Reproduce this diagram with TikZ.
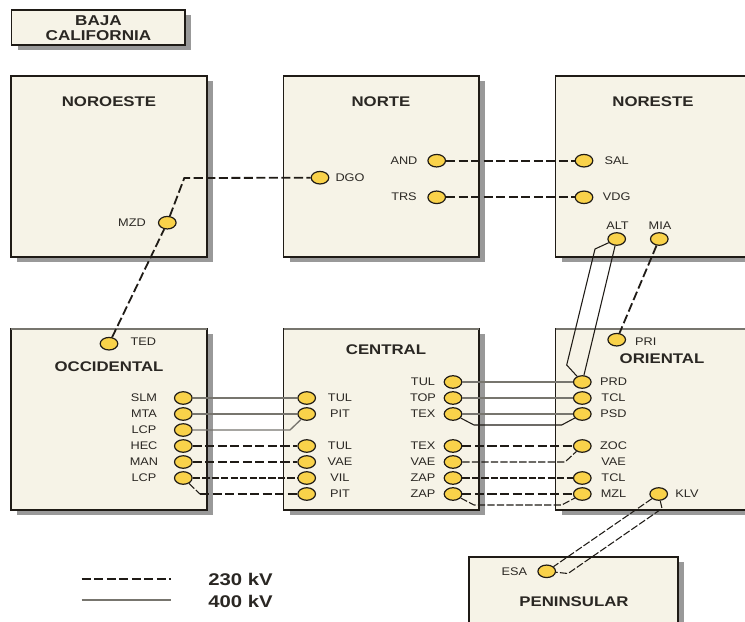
\documentclass[tikz,border=0pt]{standalone}
\usepackage{fontspec}
\setmainfont{Liberation Sans}
\usetikzlibrary{shapes.geometric}
\definecolor{boxfill}{HTML}{F6F3E7}
\definecolor{boxedge}{HTML}{1F1B16}
\definecolor{boxshadow}{HTML}{999999}
\definecolor{nodefill}{HTML}{F9D24A}
\definecolor{greyline}{HTML}{77756E}
\definecolor{txt}{HTML}{2A2723}
\newcommand{\stA}[1]{\scalebox{1.15}[1]{#1}}
\newcommand{\stB}[1]{\scalebox{1.2}[1]{#1}}
\newcommand{\region}[5]{%
  \fill[boxshadow] (#2+6,#3+5) rectangle (#4+6,#5+5);
  \node[regionbox,minimum width={(#4-#2)*0.75pt},minimum height={(#5-#3)*0.75pt}] (#1) at ({(#2+#4)/2},{(#3+#5)/2}) {};}
\tikzset{
  regionbox/.style={draw=boxedge,fill=boxfill,line width=1.2pt,inner sep=0pt,outer sep=0pt},
  sub/.style={ellipse,draw=boxedge,fill=nodefill,line width=0.9pt,minimum width=13.2pt,minimum height=9.4pt,inner sep=0pt},
  lab/.style={font=\fontsize{8.3}{9}\selectfont,text=txt,inner sep=0pt},
  ttl/.style={font=\fontsize{10.5}{12}\selectfont\bfseries,text=txt,inner sep=0pt,align=center},
  bajattl/.style={font=\fontsize{10.7}{12}\selectfont\bfseries,text=txt,inner sep=0pt},
  legendttl/.style={font=\fontsize{12.7}{14}\selectfont\bfseries,text=txt,inner sep=0pt,anchor=west},
  kv/.style={line width=1.35pt,draw=boxedge,dash pattern=on 6.8pt off 2.6pt},
  kvthin/.style={line width=0.8pt,draw=boxedge,dash pattern=on 5.5pt off 1.6pt},
  mv/.style={line width=1pt,draw=greyline},
  mvthin/.style={line width=0.8pt,draw=boxedge},
  topedge/.style={line width=1.2pt,draw=greyline},
}
\begin{document}
\begin{tikzpicture}[x=0.75pt,y=-0.75pt]
\useasboundingbox (0,0) rectangle (745,621);
\clip (0,0) rectangle (745,621);
% regions
\region{baja}{11.5}{10}{185}{45}
\region{noroeste}{11}{76}{207}{257}
\region{norte}{283.5}{76}{479}{257}
\region{noreste}{555.5}{76}{760}{257}
\region{occidental}{11}{329}{207}{510}
\region{central}{283.5}{329}{479}{510}
\region{oriental}{555.5}{329}{760}{510}
\region{peninsular}{469}{557}{678}{640}
\draw[topedge] (occidental.north west) -- (occidental.north east);
\draw[topedge] (central.north west) -- (central.north east);
\draw[topedge] (oriental.north west) -- (oriental.north east);
% region titles
\node[bajattl] (tbaja) at (98.5,20.5) {\stB{BAJA}};
\node[bajattl] (tcal) at (98.5,36) {\stB{CALIFORNIA}};
\node[ttl] (tnoroeste) at (109,102) {\stB{NOROESTE}};
\node[ttl] (tnorte) at (381,102) {\stB{NORTE}};
\node[ttl] (tnoreste) at (653,102) {\stB{NORESTE}};
\node[ttl] (toccidental) at (109,367) {\stB{OCCIDENTAL}};
\node[ttl] (tcentral) at (386,350) {\stB{CENTRAL}};
\node[ttl] (toriental) at (662,359) {\stB{ORIENTAL}};
\node[ttl] (tpeninsular) at (574,602) {\stB{PENINSULAR}};
% substations
\node[sub] (mzd) at (167.3,222.7) {};
\node[sub] (dgo) at (320,177.7) {};
\node[sub] (and) at (436.7,160.7) {};
\node[sub] (trs) at (436.7,197.3) {};
\node[sub] (sal) at (584,160.7) {};
\node[sub] (vdg) at (584,197.3) {};
\node[sub] (alt) at (616.7,239) {};
\node[sub] (mia) at (659.3,239) {};
\node[sub] (ted) at (109,343.7) {};
\node[sub] (pri) at (616.7,339.7) {};
\node[sub] (slm) at (183.3,398) {};
\node[sub] (mta) at (183.3,414) {};
\node[sub] (lcpa) at (183.3,430) {};
\node[sub] (hec) at (183.3,446) {};
\node[sub] (man) at (183.3,462) {};
\node[sub] (lcpb) at (183.3,478) {};
\node[sub] (tula) at (306.7,398) {};
\node[sub] (pita) at (306.7,414) {};
\node[sub] (tulb) at (306.7,446) {};
\node[sub] (vaea) at (306.7,462) {};
\node[sub] (vil) at (306.7,478) {};
\node[sub] (pitb) at (306.7,494) {};
\node[sub] (tulc) at (453,382) {};
\node[sub] (top) at (453,398) {};
\node[sub] (texa) at (453,414) {};
\node[sub] (texb) at (453,446) {};
\node[sub] (vaeb) at (453,462) {};
\node[sub] (zapa) at (453,478) {};
\node[sub] (zapb) at (453,494) {};
\node[sub] (prd) at (582.3,382) {};
\node[sub] (tcla) at (582.3,398) {};
\node[sub] (psd) at (582.3,414) {};
\node[sub] (zoc) at (582.3,446) {};
\node[sub] (tclb) at (582.3,478) {};
\node[sub] (mzl) at (582.3,494) {};
\node[sub] (klv) at (658.7,494) {};
\node[sub] (esa) at (546.7,571.3) {};
% labels
\foreach \t/\x/\y/\n in {MZD/132/222.7/lm,DGO/350/177.7/ld,AND/404/160.7/la,TRS/404/197/lt,SAL/616.7/160.7/ls,VDG/616.7/197/lv,ALT/617.5/225.5/lalt,MIA/660/225.5/lmia,TED/143.3/342/lted,PRI/645.7/342/lpri,
  SLM/144/398/l1,MTA/144/414/l2,LCP/144/430/l3,HEC/144/446/l4,MAN/144/462/l5,LCP/144/478/l6,
  TUL/340/398/l7,PIT/340/414/l8,TUL/340/446/l9,VAE/340/462/l10,VIL/340/478/l11,PIT/340/494/l12,
  TUL/423/382/l13,TOP/423/398/l14,TEX/423/414/l15,TEX/423/446/l16,VAE/423/462/l17,ZAP/423/478/l18,ZAP/423/494/l19,
  PRD/613.5/382/l20,TCL/613.5/398/l21,PSD/613.5/414/l22,ZOC/613.5/446/l23,VAE/613.5/462/l24,TCL/613.5/478/l25,MZL/613.5/494/l26,KLV/687/494/l27,ESA/514.3/571.3/l28}
  {\node[lab] (\n) at (\x,\y) {\stA{\t}};}
% free corners
\coordinate (c1) at (184.3,178);
\coordinate (c2) at (595,249);
\coordinate (c3) at (566.7,365);
\coordinate (c4) at (290,430);
\coordinate (c5) at (200,494);
\coordinate (c6) at (474,425);
\coordinate (c7) at (561.7,425);
\coordinate (c8) at (565,462);
\coordinate (c9) at (474,505);
\coordinate (c10) at (561.7,505);
\coordinate (c11) at (662,508.5);
\coordinate (c12) at (568,573.5);
\coordinate (lg1) at (81.7,579);
\coordinate (lg2) at (171,579);
\coordinate (lg3) at (81.7,600);
\coordinate (lg4) at (171,600);
% 230 kV
\draw[kv] (ted) -- (mzd) -- (c1) -- (dgo);
\draw[kv] (and) -- (sal);
\draw[kv] (trs) -- (vdg);
\draw[kv] (mia) -- (pri);
\draw[kv] (hec) -- (tulb);
\draw[kv] (man) -- (vaea);
\draw[kv] (c5) -- (pitb);
\draw[kvthin] (lcpb) -- (c5);
\draw[kvthin] (lcpb) -- (vil);
\draw[kv] (texb) -- (zoc);
\draw[kvthin] (vaeb) -- (c8) -- (zoc);
\draw[kvthin] (zapa) -- (tclb);
\draw[kv] (zapb) -- (mzl);
\draw[kvthin] (zapb) -- (c9) -- (c10) -- (mzl);
\draw[kvthin] (klv) -- (esa);
\draw[kvthin] (klv) -- (c11) -- (c12) -- (esa);
% 400 kV
\draw[mv] (slm) -- (tula);
\draw[mv] (mta) -- (pita);
\draw[mv] (lcpa) -- (c4) -- (pita);
\draw[mv] (tulc) -- (prd);
\draw[mv] (top) -- (tcla);
\draw[mv] (texa) -- (psd);
\draw[mvthin] (texa) -- (c6) -- (c7) -- (psd);
\draw[mvthin] (alt) -- (c2) -- (c3) -- (prd);
\draw[mvthin] (alt) -- (prd);
% legend
\draw[kv] (lg1) -- (lg2);
\draw[mv] (lg3) -- (lg4);
\node[legendttl] (k230) at (208,579) {\stB{230 kV}};
\node[legendttl] (k400) at (208,601) {\stB{400 kV}};
\end{tikzpicture}
\end{document}
